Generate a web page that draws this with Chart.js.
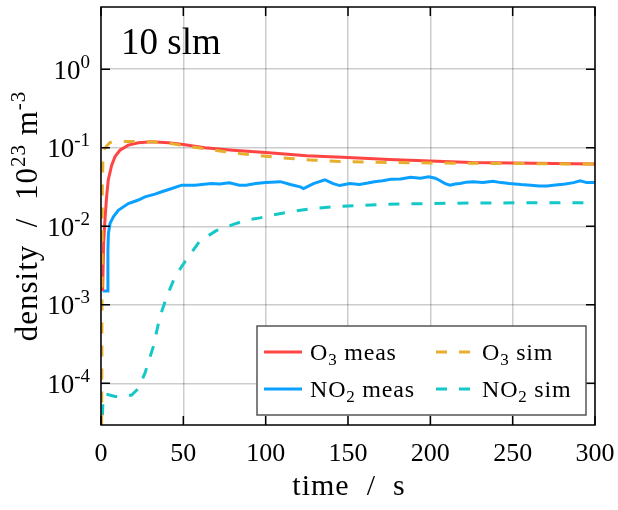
<!DOCTYPE html>
<html>
<head>
<meta charset="utf-8">
<script src="https://cdn.jsdelivr.net/npm/chart.js@4.4.0/dist/chart.umd.min.js"></script>
<style>
  body { margin: 0; background: #fff; }
  #wrap { width: 618px; height: 510px; }
</style>
</head>
<body>
<div id="wrap"><canvas id="densityChart" width="618" height="510"></canvas></div>
<script>
// time axis (s) and densities (10^23 m^-3)
var tO3meas = [1, 1.6, 2.4, 3.4, 4.4, 6.5, 8.5, 11.5, 16.6, 22.7, 30.8, 41, 50, 63, 80, 100, 125, 150, 175, 200, 225, 250, 275, 300];
var O3meas  = [0.0015, 0.006, 0.012, 0.0237, 0.039, 0.060, 0.077, 0.093, 0.108, 0.1155, 0.119, 0.1155, 0.11, 0.100, 0.093, 0.087, 0.079, 0.075, 0.071, 0.068, 0.065, 0.064, 0.063, 0.062];

var tO3sim = [0, 0.5, 0.8, 1.2, 2, 3.4, 5.5, 10, 20, 30, 40, 48, 60, 72, 85, 100, 115, 129, 145, 175, 200, 250, 300];
var O3sim  = [1e-6, 1e-4, 0.03, 0.08, 0.095, 0.105, 0.117, 0.12, 0.12, 0.119, 0.1155, 0.108, 0.099, 0.091, 0.084, 0.078, 0.073, 0.0695, 0.067, 0.065, 0.064, 0.063, 0.062];

var tNO2meas = [1, 4, 4.2, 4.5, 5.5, 7.5, 10.5, 16.6, 22.7, 26.7, 32.8, 36.9, 43, 49, 57, 67, 72, 78, 84, 88, 94, 100, 109, 115, 121, 123, 129, 136, 141, 145, 151, 157, 162, 166, 171, 176, 182, 188, 194, 199, 203, 206, 209, 212, 215, 218, 222, 226, 232, 238, 243, 248, 255, 261, 266, 271, 276, 282, 287, 291, 295, 300];
var NO2meas  = [0.0015, 0.0015, 0.005, 0.0081, 0.0109, 0.0132, 0.016, 0.0195, 0.0216, 0.0237, 0.0257, 0.0275, 0.0303, 0.0334, 0.0334, 0.035, 0.0345, 0.0358, 0.0334, 0.0334, 0.035, 0.036, 0.037, 0.034, 0.0318, 0.0303, 0.035, 0.039, 0.035, 0.033, 0.035, 0.034, 0.0355, 0.037, 0.038, 0.0396, 0.040, 0.042, 0.041, 0.0426, 0.041, 0.038, 0.035, 0.0334, 0.0345, 0.035, 0.0365, 0.037, 0.036, 0.0375, 0.036, 0.035, 0.034, 0.0334, 0.0325, 0.0325, 0.0335, 0.0345, 0.036, 0.038, 0.036, 0.036];

var tNO2sim = [0, 0.8, 1.2, 2, 4, 8.5, 14, 18.6, 22.7, 26.7, 31.8, 35.8, 39.9, 45, 51, 60, 70, 80, 88.5, 96.6, 105, 115, 129, 145, 171, 200, 224, 260, 300];
var NO2sim  = [2e-5, 3.5e-5, 6e-5, 7.2e-5, 7.2e-5, 6.8e-5, 6.8e-5, 7.1e-5, 8.6e-5, 1.35e-4, 2.95e-4, 7.1e-4, 1.26e-3, 2.3e-3, 3.55e-3, 6.5e-3, 8.8e-3, 0.0105, 0.012, 0.0128, 0.014, 0.0153, 0.0169, 0.018, 0.019, 0.0195, 0.0198, 0.0199, 0.02];

var xTicks = [0, 50, 100, 150, 200, 250, 300];
var yTicks = [1e-4, 1e-3, 1e-2, 1e-1, 1];
var yTickExp = ['-4', '-3', '-2', '-1', '0'];

var SERIF = '"Liberation Serif", "DejaVu Serif", serif';

function pairs(t, v) {
  return t.map(function (x, i) { return { x: x, y: v[i] }; });
}

// draws text made of pieces with their own size / vertical shift (sub- and superscripts)
function richText(ctx, parts, x, y, align) {
  var w = 0;
  parts.forEach(function (p) {
    ctx.font = p.size + 'px ' + SERIF;
    p.w = ctx.measureText(p.t).width;
    w += p.w;
  });
  var cx = align === 'right' ? x - w : align === 'center' ? x - w / 2 : x;
  ctx.textAlign = 'left';
  ctx.textBaseline = 'alphabetic';
  parts.forEach(function (p) {
    ctx.font = p.size + 'px ' + SERIF;
    ctx.fillText(p.t, cx, y + (p.dy || 0));
    cx += p.w;
  });
}

var frame = {
  id: 'frame',
  afterDraw: function (chart) {
    var ctx = chart.ctx, a = chart.chartArea;
    var xs = chart.scales.x, ys = chart.scales.y;
    ctx.save();
    ctx.fillStyle = '#000';

    // inward ticks and box
    ctx.strokeStyle = '#000';
    ctx.lineWidth = 1.5;
    ctx.beginPath();
    xTicks.forEach(function (v) {
      var px = xs.getPixelForValue(v);
      ctx.moveTo(px, a.bottom); ctx.lineTo(px, a.bottom - 9);
      ctx.moveTo(px, a.top); ctx.lineTo(px, a.top + 9);
    });
    yTicks.forEach(function (v) {
      var py = ys.getPixelForValue(v);
      ctx.moveTo(a.left, py); ctx.lineTo(a.left + 9, py);
      ctx.moveTo(a.right, py); ctx.lineTo(a.right - 9, py);
    });
    ctx.stroke();
    ctx.strokeRect(a.left, a.top, a.right - a.left, a.bottom - a.top);

    // y tick labels 10^n
    yTicks.forEach(function (v, i) {
      var py = ys.getPixelForValue(v);
      richText(ctx, [{ t: '10', size: 27 }, { t: yTickExp[i], size: 19, dy: -11 }], a.left - 11, py + 9.5, 'right');
    });

    // axis titles
    ctx.letterSpacing = '1px';
    richText(ctx, [{ t: 'time  /  s', size: 30 }], (a.left + a.right) / 2 + 1, 495, 'center');
    ctx.save();
    ctx.translate(37, (a.top + a.bottom) / 2);
    ctx.rotate(-Math.PI / 2);
    richText(ctx, [
      { t: 'density  /  10', size: 31 },
      { t: '23', size: 21, dy: -12 },
      { t: ' m', size: 31 },
      { t: '-3', size: 21, dy: -12 }
    ], 0, 0, 'center');
    ctx.restore();
    ctx.letterSpacing = '0px';

    // panel label
    richText(ctx, [{ t: '10 slm', size: 37 }], a.left + 20, a.top + 47, 'left');

    // legend box
    var lx = 257, ly = 326, lw = 329, lh = 89;
    ctx.fillStyle = '#fff';
    ctx.fillRect(lx, ly, lw, lh);
    ctx.strokeStyle = '#555';
    ctx.lineWidth = 1.5;
    ctx.strokeRect(lx, ly, lw, lh);
    var ds = chart.data.datasets;
    var slots = [
      { d: ds[0], x: 264, y: 352, name: [{ t: 'O', size: 24 }, { t: '3', size: 17, dy: 5 }, { t: ' meas', size: 24 }] },
      { d: ds[2], x: 436, y: 352, name: [{ t: 'O', size: 24 }, { t: '3', size: 17, dy: 5 }, { t: ' sim', size: 24 }] },
      { d: ds[1], x: 264, y: 389, name: [{ t: 'NO', size: 24 }, { t: '2', size: 17, dy: 5 }, { t: ' meas', size: 24 }] },
      { d: ds[3], x: 436, y: 389, name: [{ t: 'NO', size: 24 }, { t: '2', size: 17, dy: 5 }, { t: ' sim', size: 24 }] }
    ];
    ctx.letterSpacing = '0.8px';
    slots.forEach(function (s) {
      ctx.strokeStyle = s.d.borderColor;
      ctx.lineWidth = s.d.borderWidth;
      ctx.setLineDash(s.d.borderDash || []);
      ctx.beginPath();
      ctx.moveTo(s.x, s.y); ctx.lineTo(s.x + 38, s.y);
      ctx.stroke();
      ctx.setLineDash([]);
      ctx.fillStyle = '#000';
      richText(ctx, s.name, s.x + 46, s.y + 8, 'left');
    });
    ctx.letterSpacing = '0px';
    ctx.restore();
  }
};

var ctx = document.getElementById('densityChart').getContext('2d');
var chart = new Chart(ctx, {
  type: 'line',
  data: {
    datasets: [{
      label: 'O3 meas',
      data: pairs(tO3meas, O3meas),
      borderColor: '#ff4444',
      borderWidth: 3,
      order: 1
    }, {
      label: 'NO2 meas',
      data: pairs(tNO2meas, NO2meas),
      borderColor: '#0aa0ff',
      borderWidth: 3,
      order: 1
    }, {
      label: 'O3 sim',
      data: pairs(tO3sim, O3sim),
      borderColor: '#e8ae2e',
      borderWidth: 3,
      borderDash: [11, 12],
      order: 0
    }, {
      label: 'NO2 sim',
      data: pairs(tNO2sim, NO2sim),
      borderColor: '#14c8c8',
      borderWidth: 3,
      borderDash: [11, 12],
      order: 0
    }]
  },
  options: {
    responsive: false,
    animation: false,
    devicePixelRatio: 1,
    layout: { padding: { top: 7, right: 23, left: 0, bottom: 0 } },
    elements: {
      point: { radius: 0 },
      line: { tension: 0, fill: false }
    },
    plugins: {
      legend: { display: false },
      tooltip: { enabled: false }
    },
    scales: {
      x: {
        type: 'linear',
        min: 0,
        max: 300,
        border: { display: false },
        grid: { color: 'rgba(0,0,0,0.2)', lineWidth: 1.5, drawTicks: false },
        ticks: {
          stepSize: 50,
          color: '#000',
          padding: 14,
          font: { family: SERIF, size: 26 }
        },
        afterFit: function (s) {
          s.height = 85;
          s.paddingLeft = 0;
          s.paddingRight = 0;
        }
      },
      y: {
        type: 'logarithmic',
        min: 2.95e-5,
        max: 6.2,
        border: { display: false },
        grid: { color: 'rgba(0,0,0,0.2)', lineWidth: 1.5, drawTicks: false },
        ticks: { display: false },
        afterBuildTicks: function (s) {
          s.ticks = yTicks.map(function (v) { return { value: v }; });
        },
        afterFit: function (s) {
          s.width = 101;
          s.paddingTop = 0;
          s.paddingBottom = 0;
        }
      }
    }
  },
  plugins: [frame]
});
</script>
</body>
</html>
